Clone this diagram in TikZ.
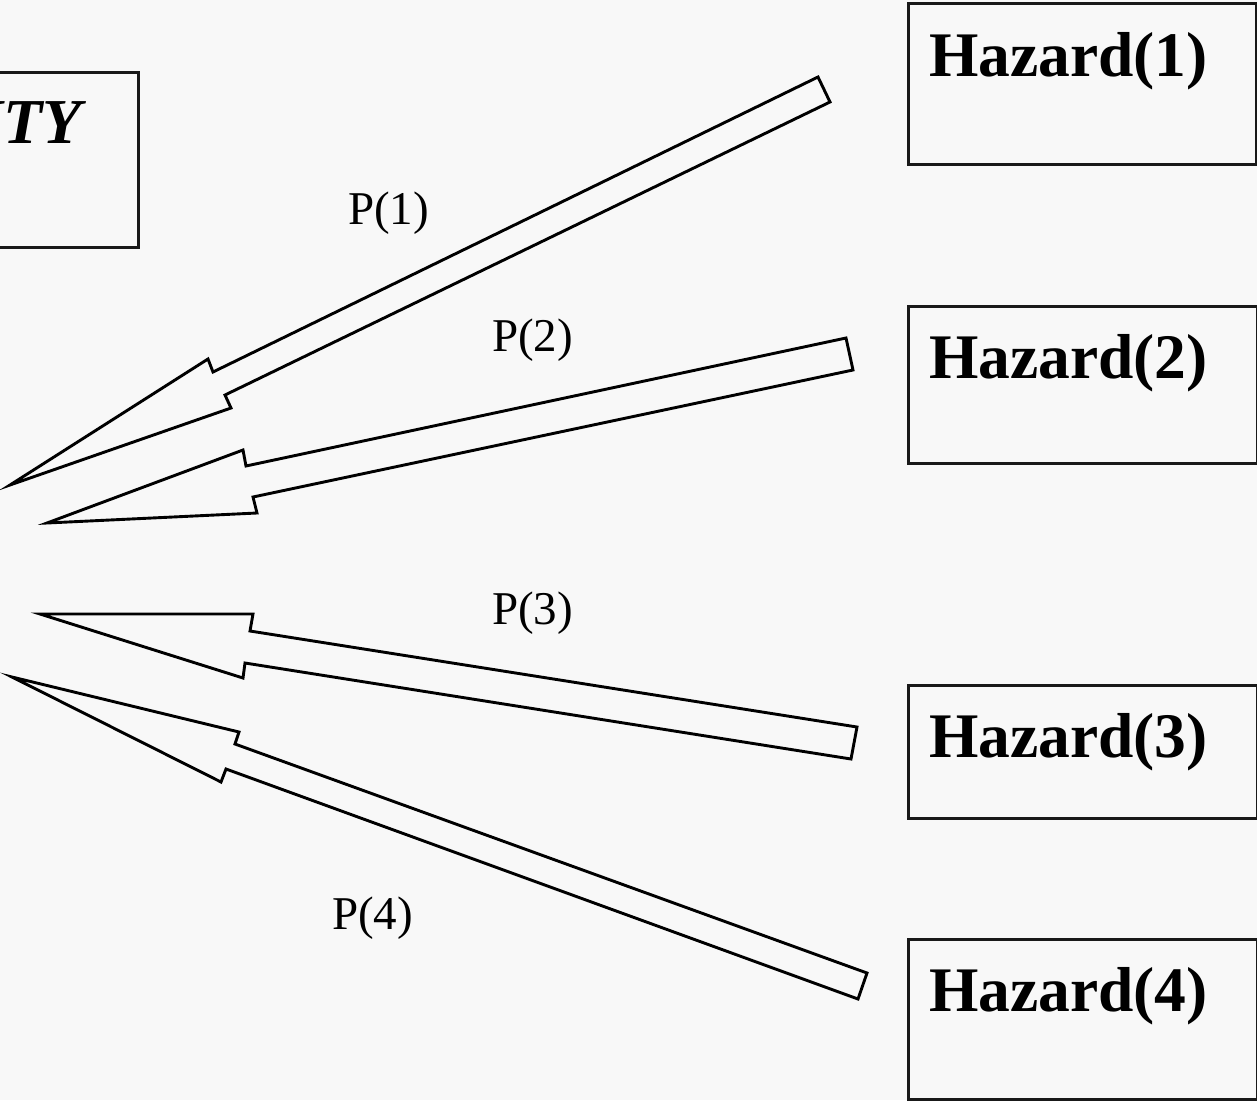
\documentclass[tikz,border=0pt]{standalone}
\usepackage{fontspec}
\setmainfont{Liberation Serif}
\begin{document}
\begin{tikzpicture}[x=1pt,y=-1pt,
  boxst/.style={draw=black!90, line width=3pt, inner sep=0pt, anchor=north west},
  hazlabel/.style={font=\fontsize{63.5}{70}\selectfont\bfseries, anchor=base west, inner sep=0pt},
  plabel/.style={font=\fontsize{47}{52}\selectfont, anchor=base west, inner sep=0pt},
  blockarrow/.style={draw=black, line width=2.9pt, line join=miter, miter limit=20, fill=none}]
\fill[color={rgb,255:red,248;green,248;blue,248}] (0,0) rectangle (1257,1100);
\useasboundingbox (0,0) rectangle (1257,1100);
% left box (cut off)
\node[boxst, minimum width=167pt, minimum height=175pt] (sec) at (-30,71) {};
\node[font=\fontsize{64}{70}\selectfont\bfseries\itshape, anchor=base east, inner sep=0pt] (sectext) at (82,143) {ITY};
% hazard boxes
\node[boxst, minimum width=348pt, minimum height=161pt] (h1) at (907,2) {};
\node[boxst, minimum width=349pt, minimum height=157pt] (h2) at (907,305) {};
\node[boxst, minimum width=349pt, minimum height=133pt] (h3) at (907,684) {};
\node[boxst, minimum width=349pt, minimum height=160pt] (h4) at (907,938) {};
\node[hazlabel] (t1) at (929,76) {Hazard(1)};
\node[hazlabel] (t2) at (929,378) {Hazard(2)};
\node[hazlabel] (t3) at (929,757) {Hazard(3)};
\node[hazlabel] (t4) at (929,1011) {Hazard(4)};
% probability labels
\node[plabel] (p1) at (348,224) {P(1)};
\node[plabel] (p2) at (492,351) {P(2)};
\node[plabel] (p3) at (492,624) {P(3)};
\node[plabel] (p4) at (332,929) {P(4)};
% block arrows
\coordinate (tip1) at (10,485);
\coordinate (tip2) at (47,523);
\coordinate (tip3) at (40,614);
\coordinate (tip4) at (12,677);
\draw[blockarrow] (818,77) -- (213,372) -- (208,359) -- (tip1) -- (231,408) -- (225,395) -- (830,102) -- cycle;
\draw[blockarrow] (846,338) -- (246,466) -- (243,450) -- (tip2) -- (257,513) -- (253,497) -- (853,370) -- cycle;
\draw[blockarrow] (857,727) -- (250,631) -- (253,614) -- (tip3) -- (243,678) -- (245,663) -- (851,759) -- cycle;
\draw[blockarrow] (867,973) -- (235,744) -- (239,732) -- (tip4) -- (221,782) -- (226,769) -- (858,999) -- cycle;
\end{tikzpicture}
\end{document}
